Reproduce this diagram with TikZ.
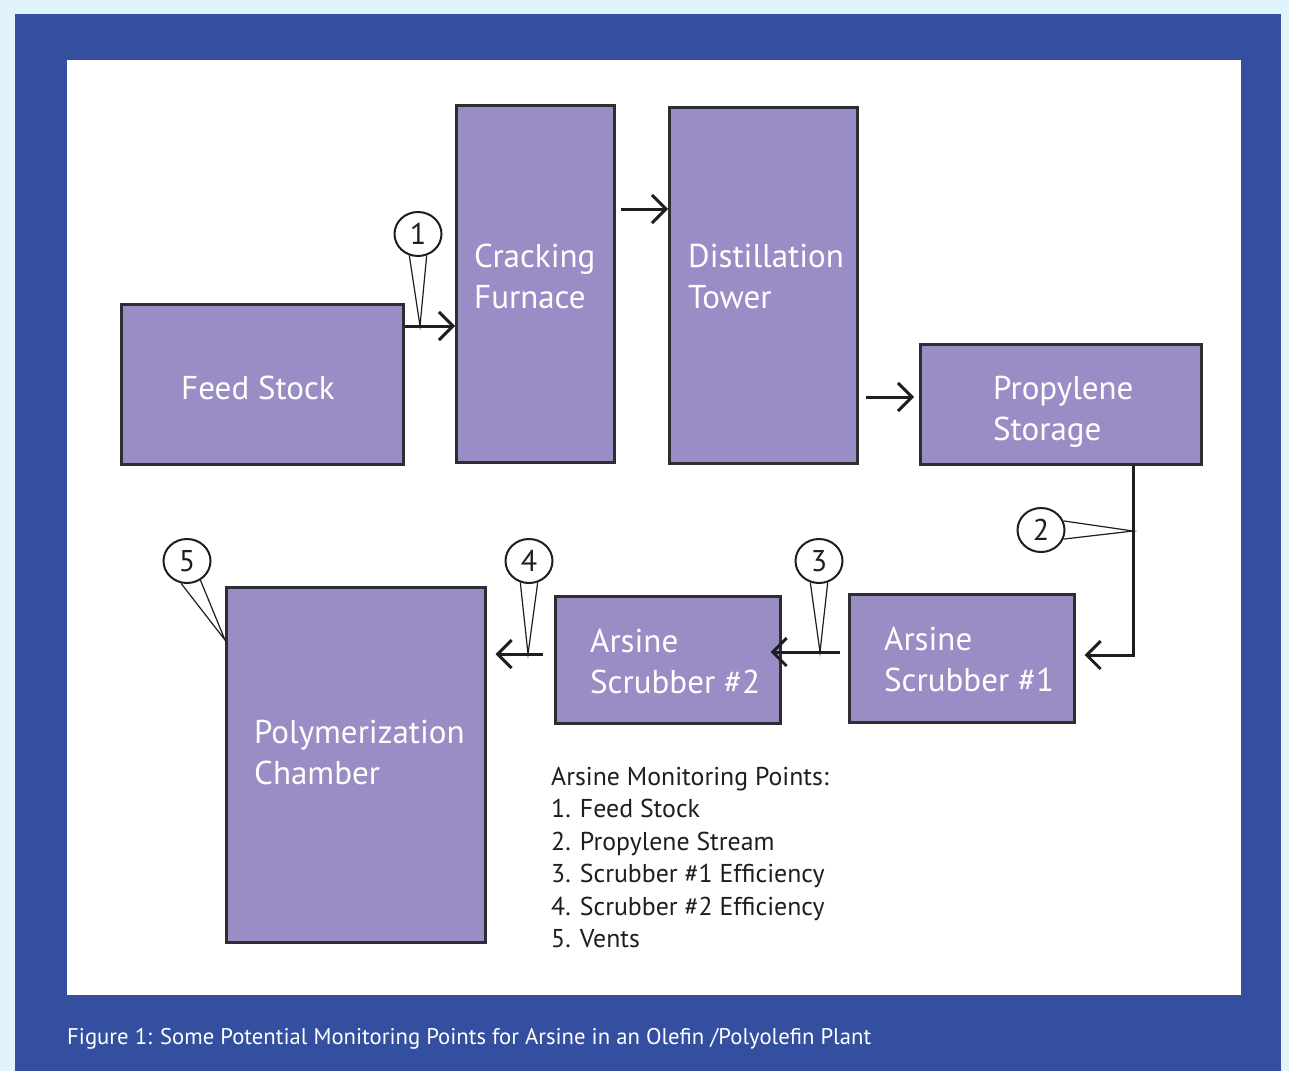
\documentclass[tikz,border=0pt]{standalone}
\usepackage{fontspec}
\setmainfont{PT Sans}
\usetikzlibrary{arrows.meta,shapes.geometric}
\definecolor{bgcyan}{RGB}{225,243,251}
\definecolor{frameblue}{RGB}{52,79,160}
\definecolor{boxfill}{RGB}{154,141,198}
\definecolor{boxline}{RGB}{45,45,50}
\definecolor{ink}{RGB}{30,30,30}
\begin{document}
\begin{tikzpicture}[x=1pt,y=-1pt,
  box/.style={draw=boxline, line width=2.5pt, fill=boxfill, anchor=north west, inner sep=0pt},
  boxtext/.style={text=white, font=\fontsize{33}{41}\selectfont, align=left, inner sep=0pt, anchor=west},
  legtext/.style={text=ink, font=\fontsize{25.8}{30}\selectfont, inner sep=0pt, anchor=base west},
  callout/.style={ellipse, draw=ink, line width=2pt, fill=white, minimum width=47pt, minimum height=44pt, inner sep=0pt, font=\fontsize{30}{30}\selectfont, text=ink},
  wedge/.style={draw=ink, line width=1.2pt},
  flow/.style={draw=ink, line width=3pt, -{Straight Barb[length=14pt,width=28pt,line width=3pt]}}
]
\useasboundingbox (0,0) rectangle (1289,1071);
\fill[bgcyan] (0,0) rectangle (1289,1071);
\fill[frameblue] (15,14) rectangle (1281,1071);
\fill[white] (67,60) rectangle (1241,995);

% boxes
\node[box, minimum width=282pt, minimum height=160pt] (feed) at (120,303) {};
\node[box, minimum width=158pt, minimum height=357pt] (crack) at (455,104) {};
\node[box, minimum width=188pt, minimum height=356pt] (dist) at (668,106) {};
\node[box, minimum width=281pt, minimum height=120pt] (prop) at (919,343) {};
\node[box, minimum width=225pt, minimum height=128pt] (scr1) at (848,593) {};
\node[box, minimum width=225pt, minimum height=127pt] (scr2) at (554,595) {};
\node[box, minimum width=259pt, minimum height=355pt] (poly) at (225,586) {};

% box texts
\node[boxtext, anchor=center] (feedT) at (258,388) {Feed Stock};
\node[boxtext] (crackT) at (474,276) {Cracking\\Furnace};
\node[boxtext] (distT) at (688,277) {Distillation\\Tower};
\node[boxtext] (propT) at (993,412) {Propylene\\Storage};
\node[boxtext] (scr1T) at (884,659) {Arsine\\Scrubber \#1};
\node[boxtext] (scr2T) at (590,661) {Arsine\\Scrubber \#2};
\node[boxtext] (polyT) at (254,753) {Polymerization\\Chamber};

% junction coordinates
\coordinate (p1) at (420,326);
\coordinate (a2) at (640,209);
\coordinate (a3) at (890,397);
\coordinate (p2) at (1133,531);
\coordinate (a4) at (1100,655);
\coordinate (p3) at (820,652);
\coordinate (p4) at (528,654);
\coordinate (p5) at (225,640);

% flows
\draw[flow] (p1 -| feed.east) -- (p1 -| crack.west);
\draw[flow] ([xshift=5pt]a2 -| crack.east) -- (a2 -| dist.west);
\draw[flow] ([xshift=7pt]a3 -| dist.east) -- ([xshift=-5pt]a3 -| prop.west);
\draw[flow] (prop.south -| p2) -- (p2 |- a4) -- ([xshift=9pt]a4 -| scr1.east);
\draw[flow] ([xshift=-8pt]p3 -| scr1.west) -- ([xshift=-11pt]p3 -| scr2.east);
\draw[flow] ([xshift=-11pt]p4 -| scr2.west) -- ([xshift=9pt]p4 -| poly.east);

% callouts
\node[callout] (c1) at (418,234) {1};
\node[callout] (c2) at (1041,530) {2};
\node[callout] (c3) at (819,561) {3};
\node[callout] (c4) at (529,561) {4};
\node[callout] (c5) at (187,561) {5};
\draw[wedge] (c1.-112) -- (p1) -- (c1.-68);
\draw[wedge] (c2.22) -- (p2) -- (c2.-22);
\draw[wedge] (c3.-112) -- (p3) -- (c3.-68);
\draw[wedge] (c4.-112) -- (p4) -- (c4.-68);
\draw[wedge] (c5.-105) -- (p5) -- (c5.-55);

% legend
\node[legtext] (leg0) at (551,785) {Arsine Monitoring Points:};
\node[legtext] (leg1) at (551,817) {1. Feed Stock};
\node[legtext] (leg2) at (551,850) {2. Propylene Stream};
\node[legtext] (leg3) at (551,882) {3. Scrubber \#1 Efficiency};
\node[legtext] (leg4) at (551,915) {4. Scrubber \#2 Efficiency};
\node[legtext] (leg5) at (551,947) {5. Vents};

% caption
\node[text=white, font=\fontsize{22.7}{26}\selectfont, inner sep=0pt, anchor=base west] (cap) at (67,1044) {Figure 1: Some Potential Monitoring Points for Arsine in an Olefin /Polyolefin Plant};
\end{tikzpicture}
\end{document}
